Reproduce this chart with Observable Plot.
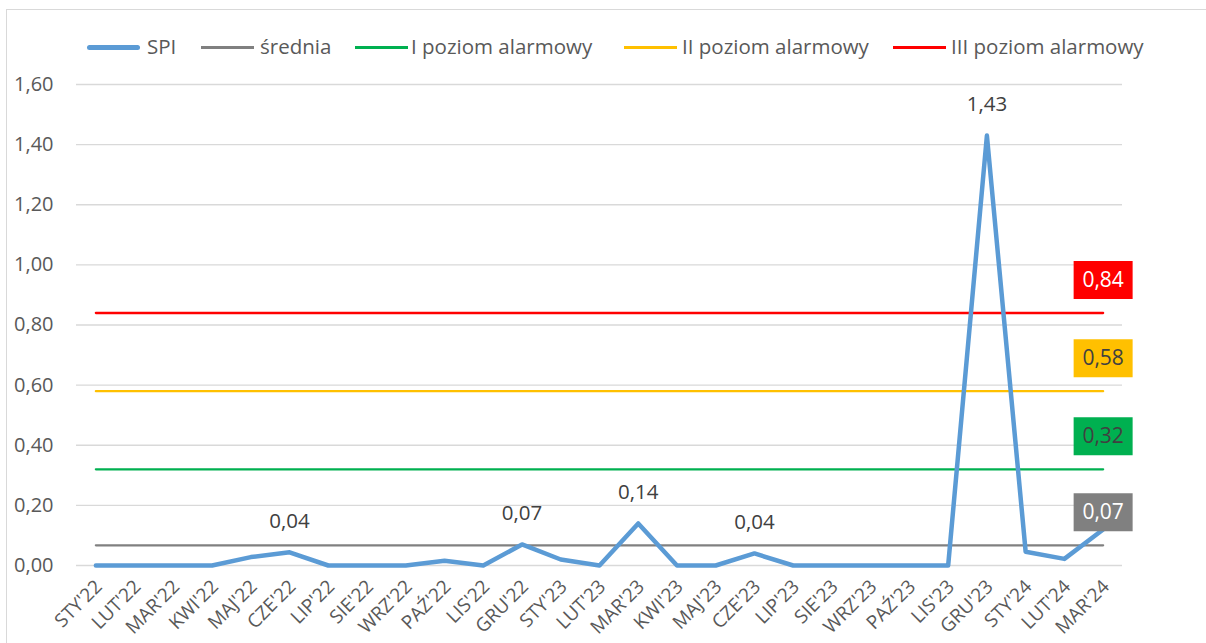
<!DOCTYPE html>
<html>
<head>
<meta charset="utf-8">
<script src="https://cdn.jsdelivr.net/npm/d3@7"></script>
<script src="https://cdn.jsdelivr.net/npm/@observablehq/plot@0.6"></script>
<style>
  html, body { margin: 0; padding: 0; background: #fff; }
  #wrap { position: relative; width: 1206px; height: 643px; overflow: hidden; font-family: "Open Sans", sans-serif; }
  #frame { position: absolute; left: 6px; top: 9px; width: 1400px; height: 800px; border: 1.5px solid #D9D9D9; box-sizing: border-box; }
  #legend { position: relative; height: 70px; }
  .lg-line { position: absolute; height: 2.5px; top: 46px; }
  .lg-text { position: absolute; top: 34px; font-size: 20.5px; color: #595959; line-height: 24px; white-space: nowrap; }
  #chart { position: relative; }
</style>
</head>
<body>
<div id="wrap">
  <div id="frame"></div>
  <div id="legend"></div>
  <div id="chart"></div>
</div>
<script>
const months = ["STY'22","LUT'22","MAR'22","KWI'22","MAJ'22","CZE'22","LIP'22","SIE'22","WRZ'22","PAŹ'22","LIS'22","GRU'22",
  "STY'23","LUT'23","MAR'23","KWI'23","MAJ'23","CZE'23","LIP'23","SIE'23","WRZ'23","PAŹ'23","LIS'23","GRU'23",
  "STY'24","LUT'24","MAR'24"];
const spi = [0,0,0,0,0.028,0.044,0,0,0,0.016,0,0.07,
  0.02,0,0.14,0,0,0.04,0,0,0,0,0,1.43,
  0.046,0.022,0.12];
const labeledMonths = ["CZE'22","GRU'22","MAR'23","CZE'23","GRU'23"];
const seriesNames = ["SPI","średnia","I poziom alarmowy","II poziom alarmowy","III poziom alarmowy"];
const seriesColors = ["#5B9BD5","#808080","#00B050","#FFC000","#FF0000"];
const levelNames = ["średnia","I poziom alarmowy","II poziom alarmowy","III poziom alarmowy"];
const levelValues = [0.067, 0.32, 0.58, 0.84];
const levelColors = ["#808080","#00B050","#FFC000","#FF0000"];
const levelTextColors = ["#FFFFFF","#404040","#404040","#FFFFFF"];
const yTicks = [0,0.2,0.4,0.6,0.8,1.0,1.2,1.4,1.6];

const fmt = d => d.toFixed(2).replace(".", ",");

// legend
const legendX = [{line:87, text:147},{line:201, text:260},{line:355, text:411},{line:624, text:682},{line:893, text:951}];
const legend = document.getElementById("legend");
seriesNames.forEach((name, i) => {
  const l = document.createElement("div");
  l.className = "lg-line";
  l.style.left = legendX[i].line + "px";
  l.style.width = "53px";
  l.style.background = seriesColors[i];
  if (i === 0) { l.style.height = "4.5px"; l.style.top = "45px"; l.style.borderRadius = "3px"; }
  legend.appendChild(l);
  const t = document.createElement("div");
  t.className = "lg-text";
  t.style.left = legendX[i].text + "px";
  t.textContent = name;
  legend.appendChild(t);
});

const spiData = months.map((m, i) => ({month: m, value: spi[i]}));
const levelData = levelNames.flatMap((name, k) => months.map(m => ({name, month: m, value: levelValues[k]})));
const lastMonth = months[months.length - 1];
const boxData = levelNames.map((name, k) => ({name, month: lastMonth, value: levelValues[k], color: levelColors[k], textColor: levelTextColors[k]}));
const boxSymbol = { draw(context, size) { context.rect(-29.5, -19, 59, 38); } };

const chart = Plot.plot({
  width: 1206,
  height: 573,
  marginLeft: 76,
  marginRight: 84,
  marginTop: 14,
  marginBottom: 78,
  style: { fontFamily: "Open Sans, sans-serif", background: "transparent", overflow: "visible" },
  x: { type: "point", domain: months, padding: 0.5, round: false, label: null },
  y: { domain: [0, 1.6], label: null },
  marks: [
    Plot.ruleY(yTicks, { stroke: "#D9D9D9", strokeWidth: 1.3 }),
    Plot.axisY({ ticks: yTicks, tickSize: 0, tickPadding: 23, tickFormat: fmt, label: null, fontSize: 20, fill: "#595959" }),
    Plot.axisX({ tickSize: 0, tickRotate: -45, tickPadding: 18, label: null, fontSize: 19, fill: "#595959", dx: 3 }),
    ...levelNames.map((name, k) => Plot.lineY(levelData.filter(d => d.name === name), {
      x: "month", y: "value", stroke: levelColors[k], strokeWidth: 2.3
    })),
    Plot.lineY(spiData, { x: "month", y: "value", stroke: "#5B9BD5", strokeWidth: 4.5, strokeLinejoin: "round" }),
    Plot.text(spiData.filter(d => labeledMonths.includes(d.month)), {
      x: "month", y: "value", text: d => fmt(d.value), dy: -31, fontSize: 20.5, fill: "#404040"
    }),
    Plot.dot(boxData, { x: "month", y: "value", symbol: boxSymbol, fill: "color", stroke: null, dy: -33 }),
    Plot.text(boxData, { x: "month", y: "value", text: d => fmt(d.value), dy: -33, fontSize: 21, fill: "textColor" })
  ]
});
document.getElementById("chart").appendChild(chart);
</script>
</body>
</html>
